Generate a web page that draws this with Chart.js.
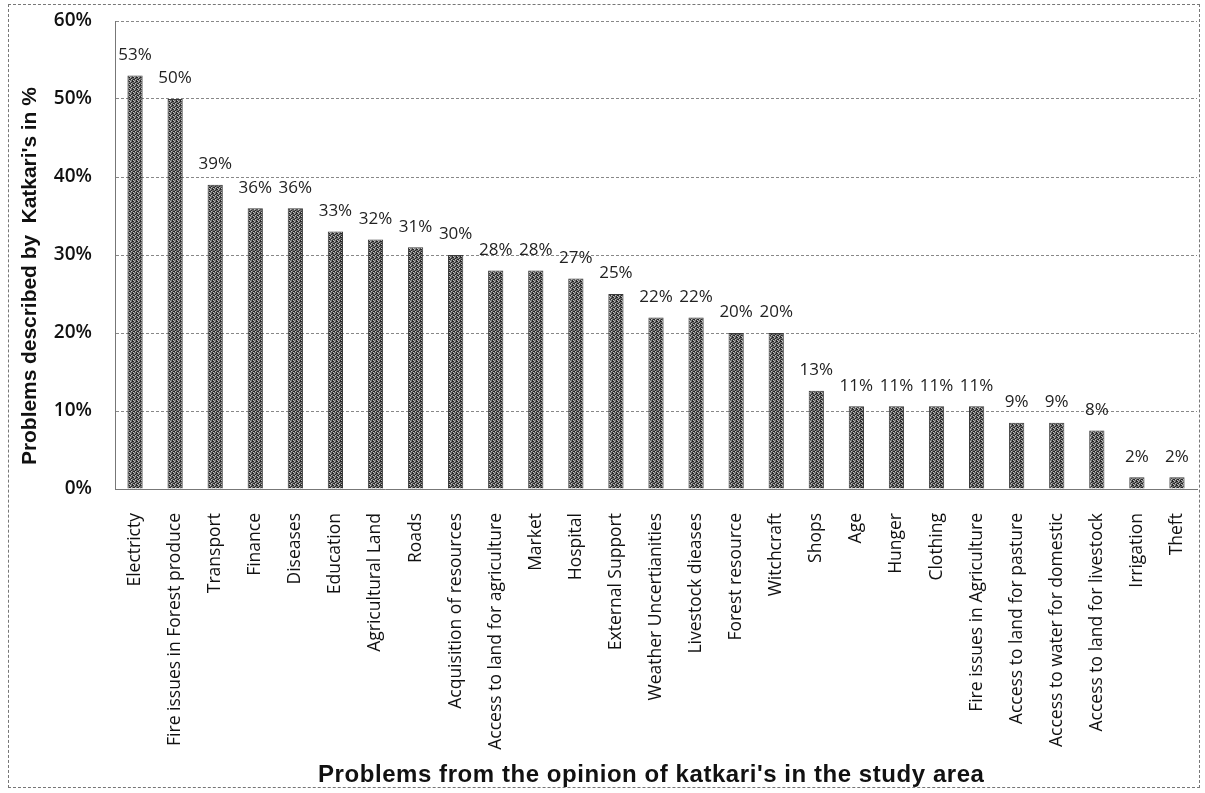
<!DOCTYPE html>
<html>
<head>
<meta charset="utf-8">
<script src="https://cdn.jsdelivr.net/npm/chart.js@4.4.0/dist/chart.umd.min.js"></script>
<style>
  html, body { margin: 0; padding: 0; background: #fff; }
  #wrap { position: absolute; left: 8px; top: 4px; width: 1192px; height: 784px; border: 1px dashed #777; box-sizing: border-box; }
  canvas { display: block; }
</style>
</head>
<body>
<div id="wrap"><canvas id="myChart" width="1190" height="782"></canvas></div>
<script>
'use strict';

const problems = [
  'Electricty', 'Fire issues in Forest produce', 'Transport', 'Finance', 'Diseases',
  'Education', 'Agricultural Land', 'Roads', 'Acquisition of resources',
  'Access to land for agriculture', 'Market', 'Hospital', 'External Support',
  'Weather Uncertianities', 'Livestock dieases', 'Forest resource', 'Witchcraft',
  'Shops', 'Age', 'Hunger', 'Clothing', 'Fire issues in Agriculture',
  'Access to land for pasture', 'Access to water for domestic',
  'Access to land for livestock', 'Irrigation', 'Theft'
];
const percent = [53, 50, 39, 36, 36, 33, 32, 31, 30, 28, 28, 27, 25, 22, 22, 20, 20,
  12.6, 10.6, 10.6, 10.6, 10.6, 8.5, 8.5, 7.5, 1.5, 1.5];
const shownLabels = ['53%', '50%', '39%', '36%', '36%', '33%', '32%', '31%', '30%', '28%',
  '28%', '27%', '25%', '22%', '22%', '20%', '20%', '13%', '11%', '11%', '11%', '11%',
  '9%', '9%', '8%', '2%', '2%'];
const yTicks = [0, 10, 20, 30, 40, 50, 60];
const xTitle = "Problems from the opinion of katkari's in the study area";
const yTitle = "Problems described by  Katkari's in %";

// grainy grey fill like the printed original
function makePattern() {
  const c = document.createElement('canvas');
  c.width = 4; c.height = 4;
  const g = c.getContext('2d');
  g.fillStyle = '#6e6e6e';
  g.fillRect(0, 0, 4, 4);
  g.fillStyle = '#262626';
  [[0, 0], [2, 1], [1, 2], [3, 3], [3, 0], [0, 2]].forEach(p => g.fillRect(p[0], p[1], 1, 1));
  g.fillStyle = '#bdbdbd';
  [[1, 0], [0, 3], [2, 2]].forEach(p => g.fillRect(p[0], p[1], 1, 1));
  return g.createPattern(c, 'repeat');
}

// text spread out to a given length (the scan is a bit stretched)
function spreadText(c, text, x, y, len) {
  c.letterSpacing = '0px';
  const w = c.measureText(text).width;
  c.letterSpacing = ((len - w) / (text.length - 1)).toFixed(2) + 'px';
  c.fillText(text, x, y);
  c.letterSpacing = '0px';
}

const valueLabels = {
  id: 'valueLabels',
  afterDatasetsDraw(chart) {
    const c = chart.ctx;
    const meta = chart.getDatasetMeta(0);
    c.save();
    c.font = '17px "Open Sans", Lato, sans-serif';
    c.fillStyle = '#222';
    c.textAlign = 'center';
    c.textBaseline = 'bottom';
    meta.data.forEach((bar, i) => {
      c.fillText(shownLabels[i], bar.x, bar.y - 12);
    });
    c.restore();
  }
};

const axisTitles = {
  id: 'axisTitles',
  afterDraw(chart) {
    const c = chart.ctx;
    const area = chart.chartArea;
    c.save();
    c.fillStyle = '#111';
    c.textBaseline = 'middle';
    c.textAlign = 'left';
    c.font = 'bold 24px "Liberation Sans", Arial, sans-serif';
    spreadText(c, xTitle, (area.left + area.right) / 2 - 338, 770, 666);
    c.translate(21, 270);
    c.rotate(-Math.PI / 2);
    c.font = 'bold 21px "Liberation Sans", Arial, sans-serif';
    spreadText(c, yTitle, -190, 0, 378);
    c.restore();
  }
};

const ctx = document.getElementById('myChart');

new Chart(ctx, {
  type: 'bar',
  data: {
    labels: problems,
    datasets: [{
      data: percent,
      backgroundColor: makePattern(),
      borderColor: '#3a3a3a',
      borderWidth: 1,
      barPercentage: 0.38,
      categoryPercentage: 1
    }]
  },
  plugins: [valueLabels, axisTitles],
  options: {
    responsive: false,
    animation: false,
    layout: { padding: { top: 16, right: 2, left: 0, bottom: 0 } },
    plugins: {
      legend: { display: false },
      tooltip: { enabled: false }
    },
    scales: {
      x: {
        grid: { display: false },
        border: { color: '#777', dash: [3, 2] },
        ticks: {
          color: '#111',
          font: { family: '"Open Sans", Lato, sans-serif', size: 17.5 },
          maxRotation: 90,
          minRotation: 90,
          autoSkip: false,
          padding: 16
        },
        afterFit(axis) {
          axis.height = 298;
          axis.paddingLeft = 0;
          axis.paddingRight = 0;
        }
      },
      y: {
        min: 0,
        max: 60,
        afterBuildTicks(axis) { axis.ticks = yTicks.map(v => ({ value: v })); },
        grid: { color: '#888', borderDash: [3, 2], tickLength: 19, tickColor: 'rgba(0,0,0,0)' },
        border: { color: '#777', dash: [3, 2] },
        ticks: {
          color: '#111',
          padding: 4,
          font: { family: '"Open Sans", Lato, sans-serif', size: 19, weight: '600' },
          callback: v => v + '%'
        },
        afterFit(axis) { axis.width = 106; }
      }
    }
  }
});
</script>
</body>
</html>
